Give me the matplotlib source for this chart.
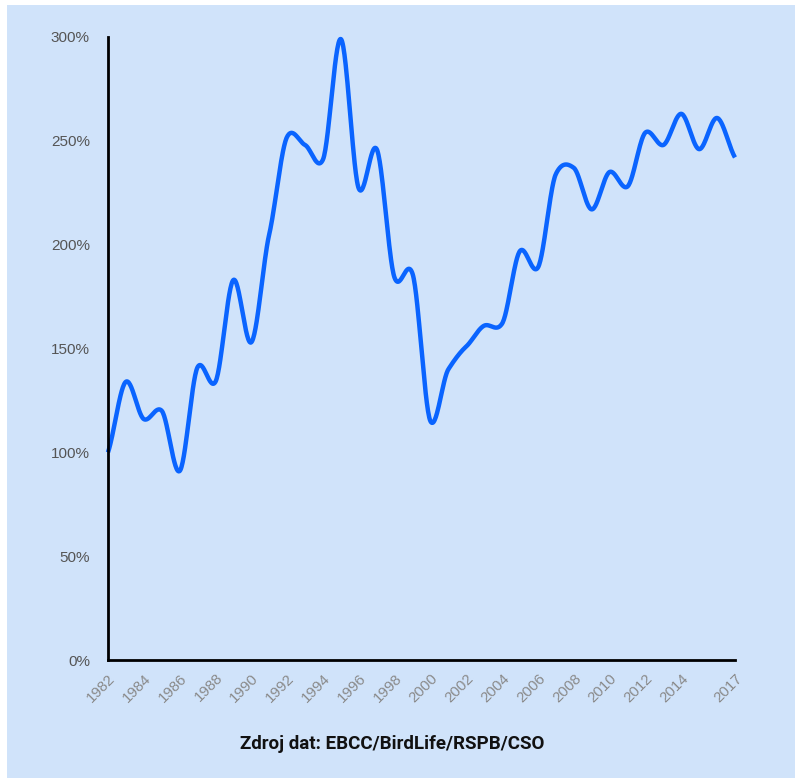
import numpy as np
import matplotlib.pyplot as plt
from matplotlib.patches import Rectangle

plt.rcParams['font.family'] = ['Liberation Sans', 'DejaVu Sans']

# data
roky = list(range(1982, 2018))
hodnoty = [100, 134, 116, 120, 91, 141, 134, 183, 153, 205,
           252, 248, 241, 299, 227, 246, 184, 186, 115, 140,
           151, 161, 162, 197, 189, 234, 237, 217, 235, 228,
           254, 248, 263, 246, 261, 242]
popisky_x = [1982, 1984, 1986, 1988, 1990, 1992, 1994, 1996, 1998, 2000,
             2002, 2004, 2006, 2008, 2010, 2012, 2014, 2017]
popisky_y = [0, 50, 100, 150, 200, 250, 300]
zdroj = "Zdroj dat: EBCC/BirdLife/RSPB/CSO"

bg = '#d0e3fa'
modra = '#0a64ff'


def hladka_krivka(x, y, n=30, c=0.75):
    # cardinal spline, only for drawing the smooth line
    x = np.asarray(x, float)
    y = np.asarray(y, float)
    my = np.zeros_like(y)
    my[1:-1] = c * (y[2:] - y[:-2]) / 2
    my[0] = c * (y[1] - y[0])
    my[-1] = c * (y[-1] - y[-2])
    t = np.linspace(0, 1, n, endpoint=False)
    h00 = 2 * t ** 3 - 3 * t ** 2 + 1
    h10 = t ** 3 - 2 * t ** 2 + t
    h01 = -2 * t ** 3 + 3 * t ** 2
    h11 = t ** 3 - t ** 2
    xs, ys = [], []
    for i in range(len(x) - 1):
        xs.extend(x[i] + (x[i + 1] - x[i]) * t)
        ys.extend(h00 * y[i] + h10 * my[i] + h01 * y[i + 1] + h11 * my[i + 1])
    xs.append(x[-1])
    ys.append(y[-1])
    return np.array(xs), np.array(ys)


fig = plt.figure(figsize=(7.95, 7.78), dpi=100)
fig.patch.set_facecolor('white')
fig.patches.append(Rectangle((7 / 795, 0), 1, 1 - 5 / 778, transform=fig.transFigure,
                             facecolor=bg, edgecolor='none', zorder=-10))

ax = fig.add_axes([108 / 795, 1 - 660 / 778, 627 / 795, 623 / 778])
ax.set_facecolor(bg)

sx, sy = hladka_krivka(roky, hodnoty)
ax.plot(sx, sy, color=modra, linewidth=3.2, solid_capstyle='butt', clip_on=False)

ax.set_xlim(1982, 2017)
ax.set_ylim(0, 300)
ax.set_xticks(popisky_x)
ax.set_xticklabels([str(r) for r in popisky_x], rotation=45, ha='right',
                   rotation_mode='anchor', color='#8a8a8a', fontsize=10.8)
ax.set_yticks(popisky_y)
ax.set_yticklabels([f"{v}%" for v in popisky_y], color='#555555', fontsize=11)
ax.tick_params(length=0, pad=13)
ax.tick_params(axis='x', pad=8)

for s in ['top', 'right']:
    ax.spines[s].set_visible(False)
for s in ['left', 'bottom']:
    ax.spines[s].set_linewidth(2)
    ax.spines[s].set_color('black')

fig.text(392 / 795, 1 - 744 / 778, zdroj, ha='center', va='center',
         fontsize=13.5, fontweight='bold', color='#111111', family='Roboto')

fig.savefig('out.png', dpi=100, facecolor=fig.get_facecolor())
